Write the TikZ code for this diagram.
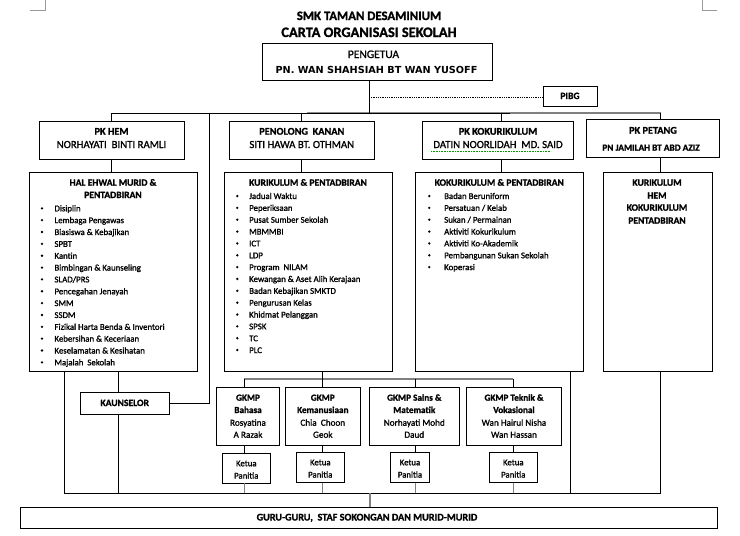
\documentclass[tikz,border=0pt]{standalone}
\usepackage{fontspec}
\setmainfont{Carlito}[UprightFeatures={RawFeature={embolden=1.3}},BoldFeatures={RawFeature={embolden=1.2}}]
\newfontfamily\heavyfont{DejaVu Sans}
\newcommand\fsitem{\fontsize{8.8}{10}\selectfont}
\newcommand\fsname{\fontsize{10.8}{12}\selectfont}
\newcommand\fshead{\fontsize{9.6}{11}\selectfont}
\newcommand\fsgk{\fontsize{9.2}{11}\selectfont}
\begin{document}
\begin{tikzpicture}[x=1pt,y=-1pt,
  bx/.style={draw, line width=0.9pt, inner sep=0pt},
  lbl/.style={inner sep=0pt, text height=0.65em, text depth=0.05em},
  hd/.style={lbl, font=\fshead\bfseries},
  nm/.style={lbl, font=\fsname},
  it/.style={lbl, anchor=west, font=\fsitem},
  gk/.style={lbl, font=\fsgk\bfseries},
  gn/.style={lbl, font=\fsgk},
  conn/.style={line width=0.8pt},
  gconn/.style={draw=black!50, line width=1.5pt},
  ]
\useasboundingbox (0,0) rectangle (740,536);
% corner marks
\draw[black!40, line width=0.8pt] (30,10) -- (45,10) -- (45,0);
\draw[black!40, line width=0.8pt] (717,10) -- (702,10) -- (702,0);
% titles
\node[lbl, font=\fontsize{12.8}{14}\selectfont\bfseries] (t1) at (369,17) {SMK TAMAN DESAMINIUM};
\node[lbl, font=\fontsize{14.4}{16}\selectfont\bfseries] (t2) at (369,34) {CARTA ORGANISASI SEKOLAH};
% pengetua
\node[bx, minimum width=230pt, minimum height=37pt] (peng) at (377,61.5) {};
\node[lbl, font=\fontsize{11.5}{13}\selectfont] (pengT) at (373.5,55) {PENGETUA};
\node[lbl, font=\heavyfont\fontsize{9.7}{11}\selectfont\bfseries] (pengN) at (376.5,70) {PN. WAN SHAHSIAH BT WAN YUSOFF};
\coordinate (pengS) at (369,80);
\coordinate (busP) at (369,113);
\coordinate (dotS) at (369,97);
% pibg
\node[bx, minimum width=54pt, minimum height=20pt] (pibg) at (570,96) {};
\node[hd] (pibgT) at (570,96) {PIBG};
\draw[line width=0.9pt, dash pattern=on 1pt off 0.8pt] (dotS) -- (dotS -| pibg.west);
% bus
\coordinate (bL) at (110.7,113);
\coordinate (bM) at (510,113);
\coordinate (bR) at (660.7,113);
\draw[black!45, line width=0.8pt] (307,112) -- (510,112);
\draw[conn] (bL) -- (bM);
\draw[gconn] (bM) -- (bR);
\draw[conn] (pengS) -- (busP);
% PK HEM
\node[bx, minimum width=145pt, minimum height=38pt] (pkhem) at (111.5,140) {};
\node[hd, font=\fontsize{10.3}{12}\selectfont\bfseries] (pkhemT) at (111.5,131.7) {PK HEM};
\node[nm] (pkhemN) at (111.5,145) {NORHAYATI\ \ BINTI RAMLI};
\draw[conn] (pkhem.north) -- (pkhem.north |- bL);
\node[bx, minimum width=168pt, minimum height=199pt] (hem) at (113,271.5) {};
\draw[conn] (pkhem.south) -- (pkhem.south |- hem.north);
\node[hd] (hemT1) at (113,182.7) {HAL EHWAL MURID \&};
\node[hd] (hemT2) at (113,195) {PENTADBIRAN};
\foreach \t [count=\i from 0] in {Disiplin, Lembaga Pengawas, Biasiswa \& Kebajikan, SPBT, Kantin, Bimbingan \& Kaunseling, SLAD/PRS, Pencegahan Jenayah, SMM, SSDM, Fizikal Harta Benda \& Inventori, Kebersihan \& Keceriaan, Keselamatan \& Kesihatan, Majalah\ \ Sekolah}{
  \node[it] (hemi\i) at (54.3,208.3+\i*11.85) {\t};
  \fill (42,208.3+\i*11.85) circle (1.3pt);
}
% Penolong Kanan
\node[bx, minimum width=145pt, minimum height=38pt] (pk) at (301.8,140) {};
\node[hd, font=\fontsize{10.3}{12}\selectfont\bfseries] (pkT) at (301.8,131.7) {PENOLONG\ \ KANAN};
\node[nm] (pkN) at (301.8,145) {SITI HAWA BT. OTHMAN};
\draw[conn] (pk.north) -- (pk.north |- bL);
\node[bx, minimum width=168pt, minimum height=199pt] (kur) at (308.3,271.5) {};
\draw[conn] (pk.south) -- (pk.south |- kur.north);
\node[hd] (kurT) at (308,182.7) {KURIKULUM \& PENTADBIRAN};
\foreach \t [count=\i from 0] in {Jadual Waktu, Peperiksaan, Pusat Sumber Sekolah, MBMMBI, ICT, LDP, Program\ \ NILAM, Kewangan \& Aset Alih Kerajaan, Badan Kebajikan SMKTD, Pengurusan Kelas, Khidmat Pelanggan, SPSK, TC, PLC}{
  \node[it] (kuri\i) at (249,196+\i*11.85) {\t};
  \fill (237.3,196+\i*11.85) circle (1.3pt);
}
% PK Kokurikulum
\node[bx, minimum width=151.4pt, minimum height=38pt] (kok) at (498,140) {};
\node[hd, font=\fontsize{10.3}{12}\selectfont\bfseries] (kokT) at (498,131.7) {PK KOKURIKULUM};
\node[nm] (kokN) at (498,145) {DATIN NOORLIDAH\ \ MD. SAID};
\draw[green!60!black, line width=0.7pt, dash pattern=on 0.8pt off 0.8pt] (431,151.5) -- (551,151.5);
\coordinate (kokN1) at ([xshift=3pt]kok.north);
\coordinate (kokS1) at ([xshift=3pt]kok.south);
\draw[conn] (kokN1) -- (kokN1 |- bL);
\node[bx, minimum width=168pt, minimum height=199pt] (kokb) at (499.3,271.5) {};
\draw[conn] (kokS1) -- (kokS1 |- kokb.north);
\node[hd] (kokbT) at (499.3,182.7) {KOKURIKULUM \& PENTADBIRAN};
\foreach \t [count=\i from 0] in {Badan Beruniform, Persatuan / Kelab, Sukan / Permainan, Aktiviti Kokurikulum, Aktiviti Ko-Akademik, Pembangunan Sukan Sekolah, Koperasi}{
  \node[it] (koki\i) at (444,196+\i*11.85) {\t};
  \fill (429.3,196+\i*11.85) circle (1.3pt);
}
% PK Petang
\node[bx, minimum width=133pt, minimum height=38pt] (pet) at (652.8,138.3) {};
\node[hd, font=\fontsize{10.3}{12}\selectfont\bfseries] (petT) at (653,130.7) {PK PETANG};
\node[hd, font=\fontsize{9.3}{11}\selectfont\bfseries] (petN) at (651,147.7) {PN JAMILAH BT ABD AZIZ};
\node[bx, minimum width=109pt, minimum height=199pt] (petb) at (658.2,271.5) {};
\coordinate (petTop) at (660.7,119.3);
\coordinate (petBot) at (660.7,157.3);
\draw[conn] (bR) -- (petTop);
\draw[conn] (petBot) -- (petBot |- petb.north);
\node[hd] (petb1) at (657,182.7) {KURIKULUM};
\node[hd] (petb2) at (657,195.7) {HEM};
\node[hd] (petb3) at (657,207.7) {KOKURIKULUM};
\node[hd] (petb4) at (657,220.7) {PENTADBIRAN};
% Kaunselor
\node[bx, minimum width=89pt, minimum height=22pt] (kaun) at (124.7,403) {};
\node[hd] (kaunT) at (124.7,403) {KAUNSELOR};
\coordinate (busK) at (209.3,113);
\draw[conn] (busK) |- (kaun.east);
% bottom bus
\coordinate (b2L) at (64.3,493);
\coordinate (b2R) at (660.7,493);
\draw[conn] (b2L) -- (b2R);
\draw[conn] (64.3,371) -- (b2L);
\draw[conn] (118.3,371) -- (118.3,392);
\draw[conn] (118.3,414) -- (118.3,493);
\draw[conn] (570,371) -- (570,493);
\draw[conn] (660.7,371) -- (b2R);
% GKMP
\coordinate (gL) at (244.3,379);
\coordinate (gR) at (513.3,379);
\draw[gconn] (gL) -- (gR);
\draw[conn] (322.3,371) -- (322.3,379);
\node[bx, minimum width=63.4pt, minimum height=58pt] (g1) at (248,416.3) {};
\node[bx, minimum width=75pt, minimum height=58pt] (g2) at (322.8,416.3) {};
\node[bx, minimum width=90pt, minimum height=58pt] (g3) at (414.3,416.3) {};
\node[bx, minimum width=95.4pt, minimum height=58pt] (g4) at (514,416.3) {};
\node[gk] (g1a) at (248,397.7) {GKMP};
\node[gk] (g1b) at (248,410) {Bahasa};
\node[gn] (g1c) at (248,422.7) {Rosyatina};
\node[gn] (g1d) at (248,434.7) {A Razak};
\node[gk] (g2a) at (322.8,397.7) {GKMP};
\node[gk] (g2b) at (322.8,410) {Kemanusiaan};
\node[gn] (g2c) at (322.8,422.7) {Chia\ \ Choon};
\node[gn] (g2d) at (322.8,434.7) {Geok};
\node[gk] (g3a) at (414.3,397.7) {GKMP Sains \&};
\node[gk] (g3b) at (414.3,410) {Matematik};
\node[gn] (g3c) at (414.3,422.7) {Norhayati Mohd};
\node[gn] (g3d) at (414.3,434.7) {Daud};
\node[gk] (g4a) at (514,397.7) {GKMP Teknik \&};
\node[gk] (g4b) at (514,410) {Vokasional};
\node[gn] (g4c) at (514,422.7) {Wan Hairul Nisha};
\node[gn] (g4d) at (514,434.7) {Wan Hassan};
% Ketua Panitia
\node[bx, minimum width=48pt, minimum height=30pt] (k1) at (246.3,468.3) {};
\node[bx, minimum width=48pt, minimum height=30pt] (k2) at (320.3,467.3) {};
\node[bx, minimum width=38.6pt, minimum height=30pt] (k3) at (410,467.3) {};
\node[bx, minimum width=48pt, minimum height=30pt] (k4) at (513.3,467.3) {};
\foreach \k in {k1,k2,k3,k4}{
  \node[gn, font=\fontsize{8.8}{10}\selectfont] (\k a) at ([yshift=-10.4pt]\k.north) {Ketua};
  \node[gn, font=\fontsize{8.8}{10}\selectfont] (\k b) at ([yshift=-22.7pt]\k.north) {Panitia};
}
\foreach \g/\k/\x in {g1/k1/244.3, g2/k2/322.3, g3/k3/415.7, g4/k4/513.3}{
  \draw[conn] (\x,379) -- (\x,387.3);
  \draw[conn] (\x,445.3) -- (\x,452.8);
  \draw[gconn] (\x,482.8) -- (\x,493);
}
% bottom box
\node[bx, minimum width=697.3pt, minimum height=21pt] (guru) at (368.7,517.5) {};
\node[hd, font=\fontsize{10.2}{12}\selectfont\bfseries] (guruT) at (367,517.5) {GURU-GURU,\ \ STAF SOKONGAN DAN MURID-MURID};
\draw[gconn] (370,493) -- (370,507);
\end{tikzpicture}
\end{document}
